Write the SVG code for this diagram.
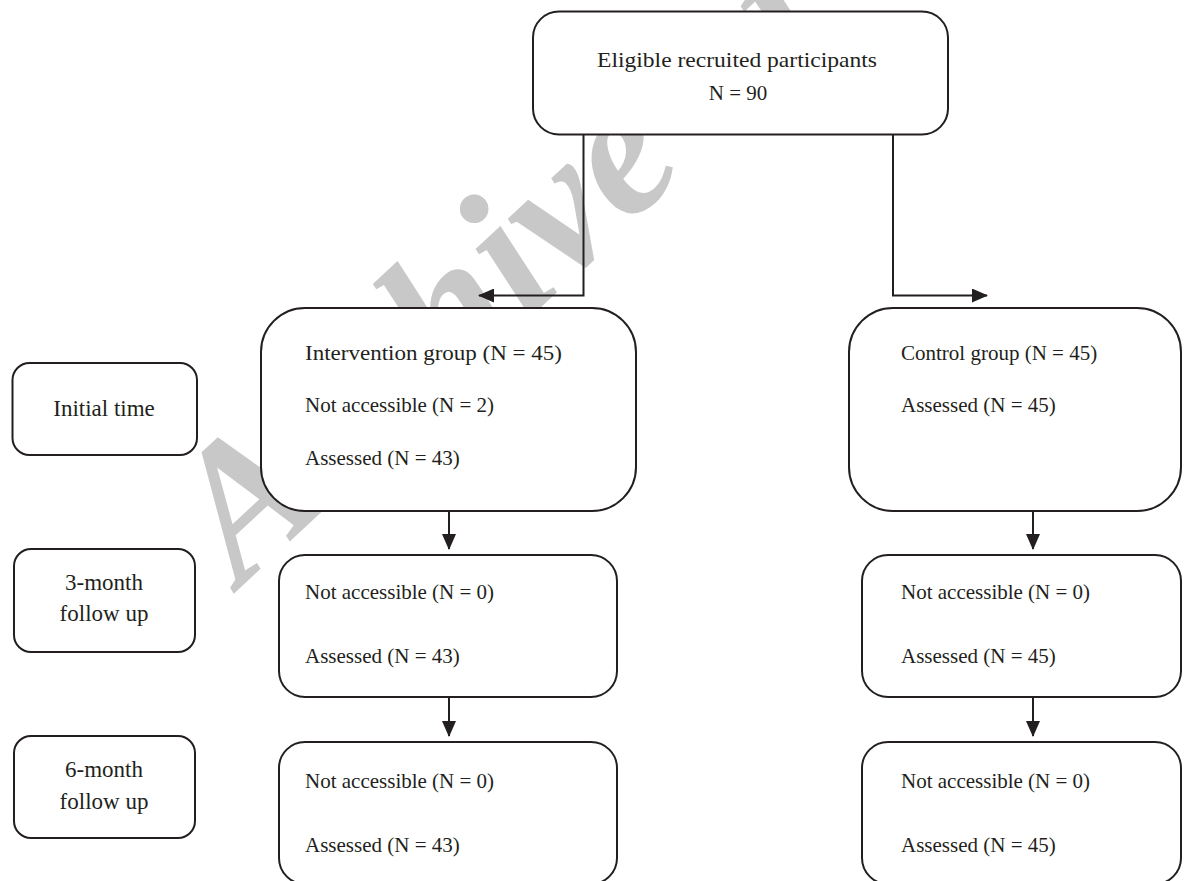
<svg xmlns="http://www.w3.org/2000/svg" width="1202" height="881" viewBox="0 0 1202 881">
<defs>
<style>
.box{fill:#fff;stroke:#231f20;stroke-width:2}
.t{font-family:"Liberation Serif","DejaVu Serif",serif;font-size:21px;fill:#231f20}
.l{font-size:23px}
.c{text-anchor:middle}
.ln{fill:none;stroke:#231f20;stroke-width:2}
.wm{font-family:"Liberation Serif",serif;font-style:italic;font-weight:bold;font-size:190px;fill:#c8c8c8}
</style>
<marker id="ah" markerWidth="16" markerHeight="14" refX="15" refY="7" orient="auto" markerUnits="userSpaceOnUse">
<path d="M0,0 L16,7 L0,14 Z" fill="#231f20"/>
</marker>
</defs>
<rect width="1202" height="881" fill="#fff"/>
<text class="wm" transform="translate(241,587) rotate(-43)">Archive of SID</text>
<g id="connectors">
<path class="ln" d="M583.5,135 V295.5 H479" marker-end="url(#ah)"/>
<path class="ln" d="M893,135 V295.5 H987" marker-end="url(#ah)"/>
<path class="ln" d="M449,511 V549" marker-end="url(#ah)"/>
<path class="ln" d="M1033,511 V549" marker-end="url(#ah)"/>
<path class="ln" d="M449,697 V736" marker-end="url(#ah)"/>
<path class="ln" d="M1033,697 V736" marker-end="url(#ah)"/>
</g>
<g id="n-eligible">
<rect class="box" x="533" y="11.5" width="415" height="123" rx="26"/>
<text class="t c" x="737" y="67" textLength="280" lengthAdjust="spacingAndGlyphs">Eligible recruited participants</text>
<text class="t c" x="738" y="100">N = 90</text>
</g>
<g id="n-initial">
<rect class="box" x="12.5" y="363" width="184.5" height="92" rx="17"/>
<text class="t l c" x="104" y="416">Initial time</text>
</g>
<g id="n-3month">
<rect class="box" x="14" y="549" width="181" height="103" rx="17"/>
<text class="t l c" x="104" y="590">3-month</text>
<text class="t l c" x="104" y="621">follow up</text>
</g>
<g id="n-6month">
<rect class="box" x="14" y="736" width="181" height="102" rx="17"/>
<text class="t l c" x="104" y="777">6-month</text>
<text class="t l c" x="104" y="809">follow up</text>
</g>
<g id="n-intervention">
<rect class="box" x="261" y="308" width="375" height="203" rx="44"/>
<text class="t" x="305" y="360" textLength="257" lengthAdjust="spacingAndGlyphs">Intervention group (N = 45)</text>
<text class="t" x="305" y="412">Not accessible (N = 2)</text>
<text class="t" x="305" y="465">Assessed (N = 43)</text>
</g>
<g id="n-control">
<rect class="box" x="849" y="308" width="332" height="203" rx="44"/>
<text class="t" x="901" y="360">Control group (N = 45)</text>
<text class="t" x="901" y="412">Assessed (N = 45)</text>
</g>
<g id="n-int-3m">
<rect class="box" x="279" y="555" width="338" height="142" rx="26"/>
<text class="t" x="305" y="599">Not accessible (N = 0)</text>
<text class="t" x="305" y="663">Assessed (N = 43)</text>
</g>
<g id="n-ctl-3m">
<rect class="box" x="862" y="555" width="319" height="142" rx="26"/>
<text class="t" x="901" y="599">Not accessible (N = 0)</text>
<text class="t" x="901" y="663">Assessed (N = 45)</text>
</g>
<g id="n-int-6m">
<rect class="box" x="279" y="742" width="338" height="142" rx="26"/>
<text class="t" x="305" y="788">Not accessible (N = 0)</text>
<text class="t" x="305" y="852">Assessed (N = 43)</text>
</g>
<g id="n-ctl-6m">
<rect class="box" x="862" y="742" width="319" height="142" rx="26"/>
<text class="t" x="901" y="788">Not accessible (N = 0)</text>
<text class="t" x="901" y="852">Assessed (N = 45)</text>
</g>
</svg>
